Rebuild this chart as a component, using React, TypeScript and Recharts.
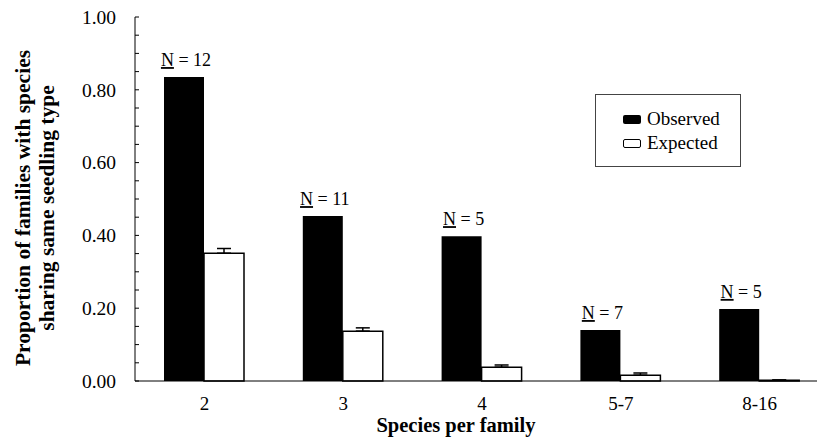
import React from "react";
import { BarChart, Bar, XAxis, YAxis, Legend, ErrorBar, LabelList } from "recharts";

const categories = ["2", "3", "4", "5-7", "8-16"];
const observed = [0.835, 0.453, 0.398, 0.14, 0.198];
const expected = [0.351, 0.137, 0.038, 0.016, 0.002];
const expectedErr = [0.013, 0.009, 0.006, 0.006, 0.001];
const familyN = [12, 11, 5, 7, 5];
const yTicks = [0, 0.05, 0.1, 0.15, 0.2, 0.25, 0.3, 0.35, 0.4, 0.45, 0.5, 0.55, 0.6, 0.65, 0.7, 0.75, 0.8, 0.85, 0.9, 0.95, 1];
const yLabelTicks = [0, 0.2, 0.4, 0.6, 0.8, 1];

const data = categories.map((c, i) => ({
  category: c,
  observed: observed[i],
  expected: expected[i],
  err: [0, expectedErr[i]],
  n: familyN[i],
}));

const serif = "'Liberation Serif', 'Times New Roman', serif";

const YTick = (props: any) => {
  const { x, y, payload } = props;
  const v = payload.value;
  const showLabel = yLabelTicks.some((t) => Math.abs(t - v) < 1e-6);
  return (
    <g>
      <line x1={x} x2={x + 4} y1={y} y2={y} stroke="#000" strokeWidth={1} />
      {showLabel && (
        <text x={x - 19} y={y} dy="0.35em" textAnchor="end" fontFamily={serif} fontSize={19.5} fill="#000">
          {v.toFixed(2)}
        </text>
      )}
    </g>
  );
};

const XTick = (props: any) => {
  const { x, y, payload } = props;
  return (
    <text x={x} y={y + 29} textAnchor="middle" fontFamily={serif} fontSize={19} fill="#000">
      {payload.value}
    </text>
  );
};

const NLabel = (props: any) => {
  const { x, y, width, value } = props;
  return (
    <text x={x + width / 2 + 2} y={y - 11} textAnchor="middle" fontFamily={serif} fontSize={18} fill="#000">
      <tspan style={{ textDecoration: "underline" }}>N</tspan>
      {" = " + value}
    </text>
  );
};

const YTitle = () => {
  const cy = 208;
  return (
    <g fontFamily={serif} fontSize={21.5} fontWeight="bold" fill="#000">
      <text x={30} y={cy} textAnchor="middle" transform={`rotate(-90 30 ${cy})`}>
        Proportion of families with species
      </text>
      <text x={54} y={cy} textAnchor="middle" transform={`rotate(-90 54 ${cy})`}>
        sharing same seedling type
      </text>
    </g>
  );
};

const XTitle = () => (
  <text x={456} y={432} textAnchor="middle" fontFamily={serif} fontSize={20.5} fontWeight="bold" fill="#000">
    Species per family
  </text>
);

const LegendBox = () => (
  <div
    style={{
      width: "100%",
      height: "100%",
      boxSizing: "border-box",
      border: "1px solid #444",
      background: "#fff",
      padding: "12px 0 0 27px",
      fontFamily: serif,
      fontSize: 19,
      color: "#000",
      lineHeight: "24px",
    }}
  >
    <div style={{ display: "flex", alignItems: "center" }}>
      <span style={{ display: "inline-block", width: 18, height: 9, background: "#000", borderRadius: 2, marginRight: 6 }} />
      Observed
    </div>
    <div style={{ display: "flex", alignItems: "center" }}>
      <span
        style={{
          display: "inline-block",
          width: 18,
          height: 9,
          boxSizing: "border-box",
          border: "1.5px solid #000",
          borderRadius: 2,
          background: "#fff",
          marginRight: 6,
        }}
      />
      Expected
    </div>
  </div>
);

export default function App() {
  return (
    <div style={{ position: "absolute", left: 0, top: 0, width: 817, height: 437, overflow: "hidden", background: "#fff" }}>
      <BarChart width={835} height={437} data={data} margin={{ top: 17, right: 6, left: 0, bottom: 0 }} barGap={0}>
        <XAxis
          dataKey="category"
          height={56}
          stroke="#000"
          tickSize={0}
          tickMargin={0}
          tick={<XTick />}
          label={<XTitle />}
        />
        <YAxis
          width={135}
          domain={[0, 1]}
          ticks={yTicks}
          interval={0}
          stroke="#000"
          tickLine={false}
          tickSize={0}
          tickMargin={0}
          tick={<YTick />}
          label={<YTitle />}
        />
        <Legend
          layout="horizontal"
          verticalAlign="middle"
          align="center"
          wrapperStyle={{ left: 595, top: 94, width: 146, height: 73 }}
          content={<LegendBox />}
        />
        <Bar dataKey="observed" fill="#000" barSize={40} isAnimationActive={false}>
          <LabelList dataKey="n" content={<NLabel />} />
        </Bar>
        <Bar dataKey="expected" fill="#fff" stroke="#000" strokeWidth={1.5} barSize={40} isAnimationActive={false}>
          <ErrorBar dataKey="err" width={7} stroke="#000" strokeWidth={1.5} direction="y" />
        </Bar>
      </BarChart>
    </div>
  );
}
